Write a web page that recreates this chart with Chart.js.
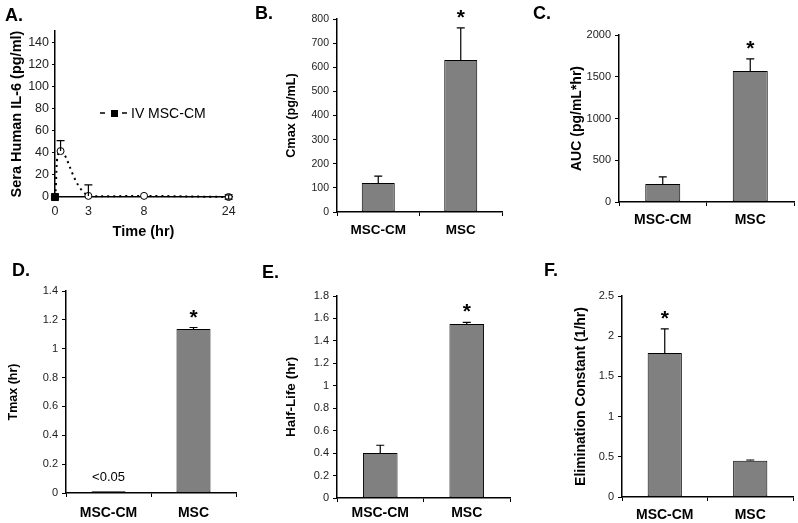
<!DOCTYPE html>
<html>
<head>
<meta charset="utf-8">
<script src="https://cdn.jsdelivr.net/npm/chart.js@4/dist/chart.umd.min.js"></script>
<style>
body { margin: 0; background: #fff; }
#wrap { position: relative; width: 798px; height: 523px; overflow: hidden; font-family: Arial, "Liberation Sans", sans-serif; }
#wrap canvas { position: absolute; left: 0; top: 0; }
.tag { position: absolute; font-weight: bold; font-size: 18px; line-height: 18px; color: #000; }
</style>
</head>
<body>
<div id="wrap">
  <canvas id="pA" width="798" height="523"></canvas>
  <canvas id="pB" width="798" height="523"></canvas>
  <canvas id="pC" width="798" height="523"></canvas>
  <canvas id="pD" width="798" height="523"></canvas>
  <canvas id="pE" width="798" height="523"></canvas>
  <canvas id="pF" width="798" height="523"></canvas>
  <div class="tag" style="left:5px;top:6px">A.</div>
  <div class="tag" style="left:255px;top:4px">B.</div>
  <div class="tag" style="left:533px;top:4px">C.</div>
  <div class="tag" style="left:12px;top:261px">D.</div>
  <div class="tag" style="left:262px;top:263px">E.</div>
  <div class="tag" style="left:544px;top:261px">F.</div>
</div>
<script>
const FONT = 'Arial, "Liberation Sans", sans-serif';
const groups = ['MSC-CM', 'MSC'];

// A. sera human IL-6 after IV MSC-CM
const seriesName = 'IV MSC-CM';
const timeHr = [0, 0.5, 3, 8, 24];
const il6Mean = [0, 41.5, 1, 1, 0];
const il6ErrUp = [0, 9.5, 10, 0, 2];
const il6ErrDown = [0, 0, 0, 0, 2];
const timeTicks = [0, 3, 8, 24];
const il6Ticks = [0, 20, 40, 60, 80, 100, 120, 140];

// B - F. PK parameters
const cmaxMean = [120, 630];
const cmaxErr = [29, 133];
const aucMean = [216, 1569];
const aucErr = [84, 144];
const tmaxMean = [0.012, 1.137];
const tmaxErr = [0, 0.01];
const halfLifeMean = [0.40, 1.55];
const halfLifeErr = [0.07, 0.015];
const elimMean = [1.79, 0.45];
const elimErr = [0.30, 0.01];

// the time axis is squeezed after 8 hr
const warp = t => t <= 8 ? t : 8 + (t - 8) * 0.475;

const errorBars = {
  id: 'errorBars',
  afterDatasetsDraw(chart, args, opts) {
    const ctx = chart.ctx;
    const y = chart.scales.y;
    const ds = chart.data.datasets[0];
    const meta = chart.getDatasetMeta(0);
    ctx.save();
    ctx.strokeStyle = '#000';
    ctx.fillStyle = '#000';
    ctx.lineWidth = 1.2;
    meta.data.forEach((el, i) => {
      const d = ds.data[i];
      const v = typeof d === 'object' ? d.y : d;
      const up = (opts.up || [])[i] || 0;
      const down = (opts.down || [])[i] || 0;
      const cap = opts.cap || 4;
      const top = y.getPixelForValue(v + up);
      const bot = y.getPixelForValue(v - down);
      if (up > 0) {
        ctx.beginPath();
        ctx.moveTo(el.x, y.getPixelForValue(v));
        ctx.lineTo(el.x, top);
        ctx.moveTo(el.x - cap, top);
        ctx.lineTo(el.x + cap, top);
        ctx.stroke();
      }
      if (down > 0) {
        ctx.beginPath();
        ctx.moveTo(el.x, y.getPixelForValue(v));
        ctx.lineTo(el.x, bot);
        ctx.moveTo(el.x - cap, bot);
        ctx.lineTo(el.x + cap, bot);
        ctx.stroke();
      }
      if (opts.stars && opts.stars[i]) {
        ctx.font = 'bold 21px ' + FONT;
        ctx.textAlign = 'center';
        ctx.textBaseline = 'alphabetic';
        ctx.fillText('*', el.x, top - 16 + 12);
      }
      if (opts.notes && opts.notes[i]) {
        ctx.font = '13px ' + FONT;
        ctx.textAlign = 'center';
        ctx.textBaseline = 'middle';
        ctx.fillText(opts.notes[i], el.x, y.getPixelForValue(v) - 14);
      }
    });
    ctx.restore();
  }
};

const keyPlugin = {
  id: 'key',
  afterDraw(chart) {
    const ctx = chart.ctx;
    ctx.save();
    ctx.strokeStyle = '#000';
    ctx.lineWidth = 1.5;
    ctx.setLineDash([5, 6]);
    ctx.beginPath();
    ctx.moveTo(100, 113);
    ctx.lineTo(128, 113);
    ctx.stroke();
    ctx.setLineDash([]);
    ctx.fillStyle = '#000';
    ctx.fillRect(111, 110, 7, 7);
    ctx.font = '14px ' + FONT;
    ctx.textBaseline = 'middle';
    ctx.fillText(chart.data.datasets[0].label, 131, 114);
    ctx.restore();
  }
};

function yAxis(c) {
  return {
    min: 0,
    max: c.max,
    ticks: {
      stepSize: c.step,
      color: '#222',
      padding: 4,
      font: { family: FONT, size: c.tickFont },
      callback: v => String(Math.round(v * 100) / 100)
    },
    grid: { drawOnChartArea: false, color: '#000', tickLength: 4 },
    border: { display: true, color: '#000', width: 1.5 },
    title: { display: true, text: c.title, color: '#000', padding: 0, font: { family: FONT, size: c.titleFont, weight: 'bold' } },
    afterFit: s => { s.width = c.yW; }
  };
}

function barPanel(id, c) {
  return new Chart(document.getElementById(id), {
    type: 'bar',
    data: {
      labels: groups,
      datasets: [{
        data: c.values,
        backgroundColor: '#808080',
        borderColor: '#000',
        borderWidth: 1,
        borderSkipped: false,
        barPercentage: 0.4,
        categoryPercentage: 1
      }]
    },
    options: {
      responsive: false,
      animation: false,
      events: [],
      layout: { padding: c.pad },
      plugins: {
        legend: { display: false },
        tooltip: { enabled: false },
        errorBars: { up: c.err, stars: c.stars, notes: c.notes, cap: 4 }
      },
      scales: {
        x: {
          grid: { drawOnChartArea: false, color: '#000', tickLength: 4, offset: true },
          border: { color: '#000', width: 1.5 },
          ticks: { color: '#000', padding: c.xPad, font: { family: FONT, size: c.xFont, weight: 'bold' } },
          afterFit: s => { s.height = c.xH; }
        },
        y: yAxis(c)
      }
    },
    plugins: [errorBars]
  });
}

new Chart(document.getElementById('pA'), {
  type: 'line',
  data: {
    datasets: [{
      label: seriesName,
      data: timeHr.map((t, i) => ({ x: warp(t), y: il6Mean[i] })),
      borderColor: '#000',
      borderWidth: 2,
      borderDash: [2, 4],
      tension: 0.4,
      clip: false,
      pointStyle: ctx => ctx.dataIndex === 0 ? 'rect' : 'circle',
      pointRadius: ctx => ctx.dataIndex === 0 ? 5 : 3.5,
      pointBackgroundColor: ctx => ctx.dataIndex === 0 ? '#000' : '#fff',
      pointBorderColor: '#000',
      pointBorderWidth: 1
    }]
  },
  options: {
    responsive: false,
    animation: false,
    events: [],
    layout: { padding: { left: 8.3, top: 31, right: 566, bottom: 282.3 } },
    plugins: {
      legend: { display: false },
      tooltip: { enabled: false },
      errorBars: { up: il6ErrUp, down: il6ErrDown, cap: 4 }
    },
    scales: {
      x: {
        type: 'linear',
        min: 0,
        max: 15.9,
        afterBuildTicks: s => { s.ticks = timeTicks.map(t => ({ value: warp(t) })); },
        ticks: {
          color: '#222',
          padding: 7.5,
          font: { family: FONT, size: 12.5 },
          callback: (v, i) => String(timeTicks[i])
        },
        grid: { display: false, drawTicks: false },
        border: { color: '#000', width: 1.5 },
        title: { display: true, text: 'Time (hr)', color: '#000', padding: 0, font: { family: FONT, size: 14.5, weight: 'bold' } },
        afterFit: s => { s.height = 43.7; }
      },
      y: {
        min: 0,
        max: 150,
        afterBuildTicks: s => { s.ticks = il6Ticks.map(v => ({ value: v })); },
        ticks: { color: '#222', padding: 3, font: { family: FONT, size: 12.5 } },
        grid: { drawOnChartArea: false, color: '#000', tickLength: 3 },
        border: { color: '#000', width: 1.5 },
        title: { display: true, text: 'Sera Human IL-6 (pg/ml)', color: '#000', padding: 0, font: { family: FONT, size: 14.5, weight: 'bold' } },
        afterFit: s => { s.width = 46.7; }
      }
    }
  },
  plugins: [errorBars, keyPlugin]
});

barPanel('pB', {
  values: cmaxMean, err: cmaxErr, stars: [false, true],
  max: 800, step: 100, tickFont: 10.5, title: 'Cmax (pg/mL)', titleFont: 12.7,
  yW: 53.6, xH: 35, xPad: 5.9, xFont: 13.5,
  pad: { left: 283.4, top: 19, right: 296, bottom: 276 }
});

barPanel('pC', {
  values: aucMean, err: aucErr, stars: [false, true],
  max: 2000, step: 500, tickFont: 11, title: 'AUC (pg/mL*hr)', titleFont: 14,
  yW: 50.4, xH: 35, xPad: 5.6, xFont: 14,
  pad: { left: 568.6, top: 35, right: 4, bottom: 286 }
});

barPanel('pD', {
  values: tmaxMean, err: tmaxErr, stars: [false, true], notes: ['<0.05', ''],
  max: 1.4, step: 0.2, tickFont: 11, title: 'Tmax (hr)', titleFont: 12.5,
  yW: 59.5, xH: 28, xPad: 7.6, xFont: 14,
  pad: { left: 6.5, top: 291, right: 562, bottom: 2 }
});

barPanel('pE', {
  values: halfLifeMean, err: halfLifeErr, stars: [false, true],
  max: 1.8, step: 0.2, tickFont: 11, title: 'Half-Life (hr)', titleFont: 13.5,
  yW: 54.1, xH: 25, xPad: 2.6, xFont: 14,
  pad: { left: 282.9, top: 296, right: 288, bottom: 0 }
});

barPanel('pF', {
  values: elimMean, err: elimErr, stars: [true, false],
  max: 2.5, step: 0.5, tickFont: 11, title: 'Elimination Constant (1/hr)', titleFont: 14,
  yW: 49.4, xH: 26, xPad: 5.6, xFont: 14,
  pad: { left: 572.6, top: 296, right: 5, bottom: 0 }
});
</script>
</body>
</html>
